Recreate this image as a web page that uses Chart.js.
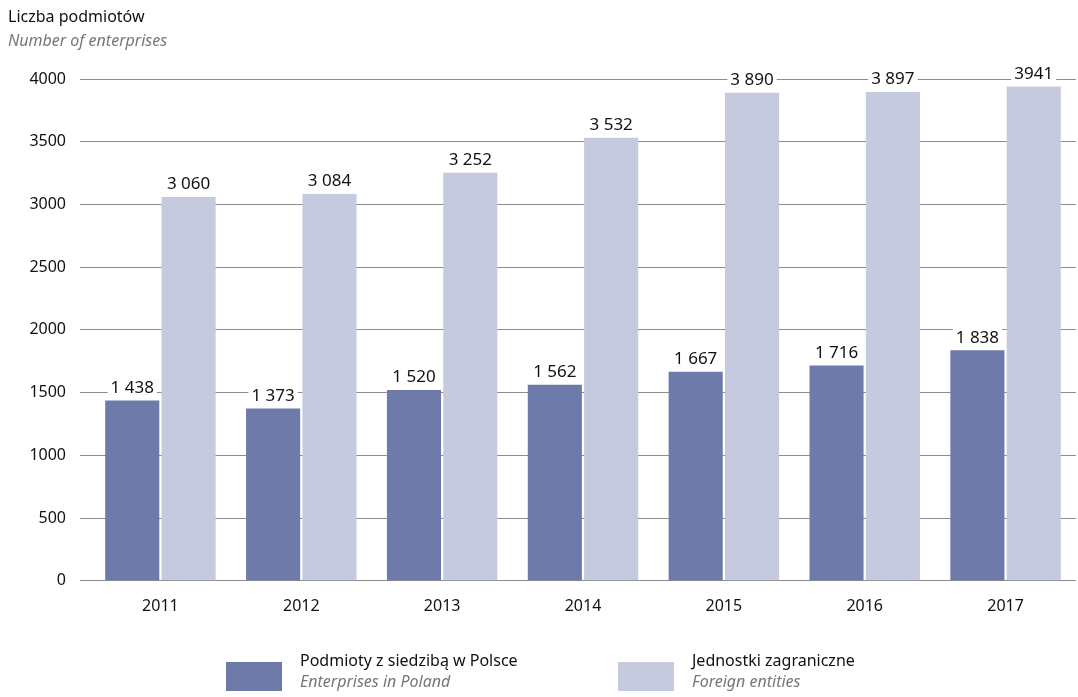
<!DOCTYPE html>
<html>
<head>
<meta charset="utf-8">
<script src="https://cdn.jsdelivr.net/npm/chart.js@4/dist/chart.umd.min.js"></script>
<style>
  body { margin: 0; background: #fff; font-family: "Noto Sans", sans-serif; }
  #wrap { position: relative; width: 1078px; height: 697px; }
  #title { position: absolute; left: 8px; top: 4px; font-size: 16px; line-height: 24px; color: #111; }
  #title i { color: #777; }
  .leg { position: absolute; top: 650px; font-size: 16px; line-height: 21px; color: #111; }
  .leg .box { position: absolute; left: 0; top: 12px; width: 56px; height: 29px; }
  .leg .txt { position: absolute; left: 74px; top: 0; white-space: nowrap; }
  .leg i { color: #777; }
</style>
</head>
<body>
<div id="wrap">
  <canvas id="chart" width="1078" height="697"></canvas>
  <div id="title">Liczba podmiotów<br><i>Number of enterprises</i></div>
  <div id="legend"></div>
</div>
<script>
var years = ["2011", "2012", "2013", "2014", "2015", "2016", "2017"];
var polska = [1438, 1373, 1520, 1562, 1667, 1716, 1838];
var zagraniczne = [3060, 3084, 3252, 3532, 3890, 3897, 3941];
var polskaLabels = ["1 438", "1 373", "1 520", "1 562", "1 667", "1 716", "1 838"];
var zagraniczneLabels = ["3 060", "3 084", "3 252", "3 532", "3 890", "3 897", "3941"];
var seriesNames = [["Podmioty z siedzibą w Polsce", "Enterprises in Poland"], ["Jednostki zagraniczne", "Foreign entities"]];
var colors = ["#6e7baa", "#c5cadf"];

var legendX = [226, 618];
var legendHtml = "";
for (var i = 0; i < seriesNames.length; i++) {
    legendHtml += '<div class="leg" style="left:' + legendX[i] + 'px"><div class="box" style="background:' + colors[i] + '"></div>' +
        '<div class="txt">' + seriesNames[i][0] + '<br><i>' + seriesNames[i][1] + '</i></div></div>';
}
document.getElementById("legend").innerHTML = legendHtml;

var valueLabels = {
    id: "valueLabels",
    afterDatasetsDraw: function (chart) {
        var ctx = chart.ctx;
        var lists = [polskaLabels, zagraniczneLabels];
        ctx.save();
        ctx.font = "17px 'Noto Sans'";
        ctx.textAlign = "center";
        ctx.textBaseline = "bottom";
        chart.data.datasets.forEach(function (ds, di) {
            chart.getDatasetMeta(di).data.forEach(function (bar, i) {
                var t = lists[di][i];
                var w = ctx.measureText(t).width;
                ctx.fillStyle = "#fff";
                ctx.fillRect(bar.x - w / 2 - 3, bar.y - 27, w + 6, 22);
                ctx.fillStyle = "#111";
                ctx.fillText(t, bar.x, bar.y - 4);
            });
        });
        ctx.restore();
    }
};

var ctx = document.getElementById("chart").getContext("2d");
new Chart(ctx, {
    type: "bar",
    data: {
        labels: years,
        datasets: [
            { label: seriesNames[0][0], data: polska, backgroundColor: colors[0] },
            { label: seriesNames[1][0], data: zagraniczne, backgroundColor: colors[1] }
        ]
    },
    plugins: [valueLabels],
    options: {
        responsive: false,
        animation: false,
        categoryPercentage: 0.8,
        barPercentage: 0.96,
        layout: { padding: { top: 79, right: 2, bottom: 73, left: 0 } },
        plugins: { legend: { display: false }, tooltip: { enabled: false } },
        scales: {
            x: {
                grid: { display: false },
                border: { display: false },
                ticks: { color: "#111", font: { family: "Noto Sans", size: 16 }, padding: 8 }
            },
            y: {
                min: 0,
                max: 4000,
                afterFit: function (s) { s.width = 90; },
                border: { display: false },
                grid: { color: "#8c8c8c", lineWidth: 1, tickLength: 10 },
                ticks: {
                    stepSize: 500,
                    color: "#111",
                    font: { family: "Noto Sans", size: 16 },
                    padding: 14,
                    callback: function (v) { return String(v); }
                }
            }
        }
    }
});
</script>
</body>
</html>
